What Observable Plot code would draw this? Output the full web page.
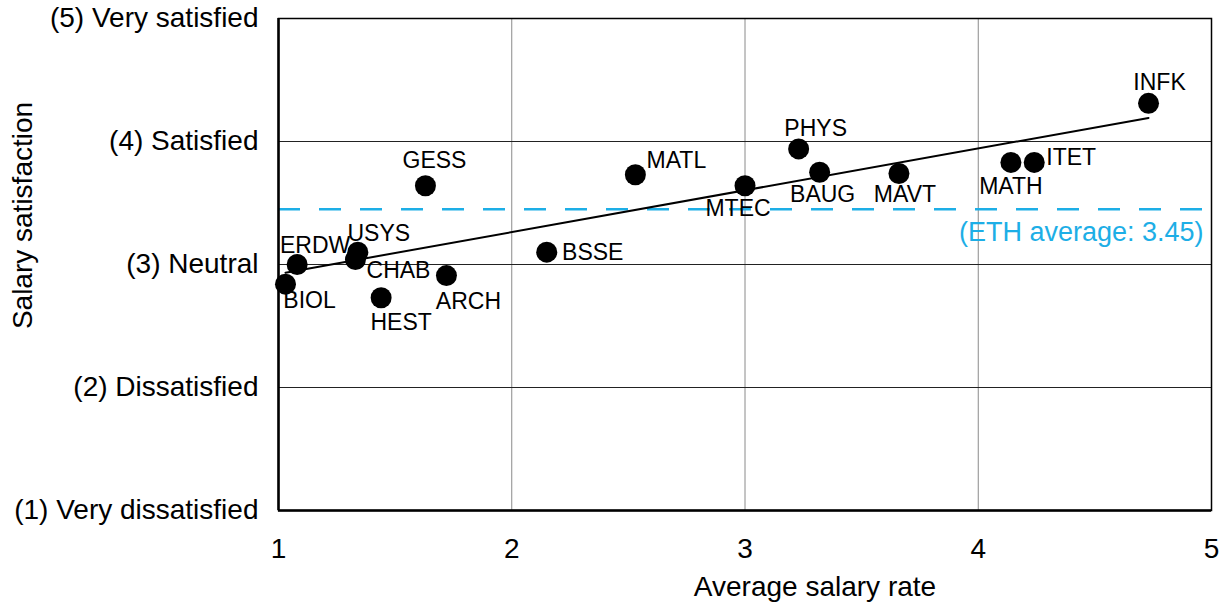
<!DOCTYPE html>
<html>
<head>
<meta charset="utf-8">
<script src="https://cdn.jsdelivr.net/npm/d3@7"></script>
<script src="https://cdn.jsdelivr.net/npm/@observablehq/plot@0.6"></script>
<style>
  html, body { margin: 0; padding: 0; background: #ffffff; }
  #chart svg { display: block; }
</style>
</head>
<body>
<div id="chart"></div>
<script>
// ---- Data ----
const departments = ["INFK", "PHYS", "MATH", "ITET", "MATL", "BAUG", "MAVT", "MTEC", "GESS", "BSSE", "ERDW", "USYS", "CHAB", "BIOL", "HEST", "ARCH"];
const salaryRate  = [4.73, 3.23, 4.14, 4.24, 2.53, 3.32, 3.66, 3.00, 1.63, 2.15, 1.08, 1.34, 1.33, 1.03, 1.44, 1.72];
const satisfaction = [4.31, 3.94, 3.83, 3.83, 3.73, 3.75, 3.74, 3.64, 3.64, 3.10, 3.00, 3.10, 3.04, 2.84, 2.73, 2.91];
const ethAverage = 3.45;
const xTicks = [1, 2, 3, 4, 5];
const yTicks = [1, 2, 3, 4, 5];
const yTickLabels = ["(1) Very dissatisfied", "(2) Dissatisfied", "(3) Neutral", "(4) Satisfied", "(5) Very satisfied"];

// ---- Layout config (label offsets in px, relative to each dot) ----
const labelOffset = {
  INFK: [11, -21], PHYS: [17, -20], MATH: [0, 24], ITET: [37, -5],
  MATL: [41, -14], BAUG: [3, 22], MAVT: [6, 21], MTEC: [-7, 23],
  GESS: [9, -25], BSSE: [46, 0], ERDW: [18, -19], USYS: [21, -19],
  CHAB: [43, 11], BIOL: [24, 16], HEST: [20, 25], ARCH: [22, 26]
};

const rows = departments.map((name, i) => ({name, x: salaryRate[i], y: satisfaction[i]}));

const blue = "#1DAEE6";

const labelMarks = rows.map(r => Plot.text([r], {
  x: "x", y: "y", text: "name",
  dx: labelOffset[r.name][0], dy: labelOffset[r.name][1],
  fontSize: 23, fill: "black", textAnchor: "middle", lineAnchor: "middle"
}));

const chart = Plot.plot({
  width: 1228,
  height: 606,
  marginLeft: 278,
  marginRight: 17,
  marginTop: 18,
  marginBottom: 96,
  x: {domain: [1, 5]},
  y: {domain: [1, 5]},
  style: {fontFamily: "'Liberation Sans', Arial, sans-serif", fontSize: "28px", color: "black", background: "white"},
  marks: [
    Plot.gridX(xTicks.slice(1, -1), {stroke: "#8a8a8a", strokeOpacity: 1, strokeWidth: 1}),
    Plot.gridY(yTicks.slice(1, -1), {stroke: "#222222", strokeOpacity: 1, strokeWidth: 1}),
    Plot.ruleY([ethAverage], {stroke: blue, strokeWidth: 2.5, strokeDasharray: "22,19"}),
    Plot.text([ethAverage], {x: 5, y: d => d, text: d => `(ETH average: ${d})`, fill: blue, fontSize: 27, textAnchor: "end", lineAnchor: "middle", dx: -8, dy: 23}),
    Plot.linearRegressionY(rows, {x: "x", y: "y", ci: 0, stroke: "black", strokeWidth: 2}),
    Plot.dot(rows, {x: "x", y: "y", r: 10.5, fill: "black", stroke: "none"}),
    ...labelMarks,
    Plot.frame({stroke: "black", strokeWidth: 1.5}),
    Plot.ruleX([1], {stroke: "black", strokeWidth: 2.5}),
    Plot.ruleY([1], {stroke: "black", strokeWidth: 2.5}),
    Plot.axisX({ticks: xTicks, tickSize: 0, tickPadding: 28, label: null, tickFormat: d => String(d)}),
    Plot.axisY({ticks: yTicks, tickSize: 0, tickPadding: 20, label: null, tickFormat: d => yTickLabels[yTicks.indexOf(d)]}),
    Plot.text(["Average salary rate"], {frameAnchor: "bottom", text: d => d, dx: 70, dy: 77, textAnchor: "middle", lineAnchor: "middle", fontSize: 28}),
    Plot.text(["Salary satisfaction"], {frameAnchor: "left", text: d => d, rotate: -90, dx: -255, dy: -49, textAnchor: "middle", lineAnchor: "middle", fontSize: 28})
  ]
});

document.getElementById("chart").appendChild(chart);
</script>
</body>
</html>
